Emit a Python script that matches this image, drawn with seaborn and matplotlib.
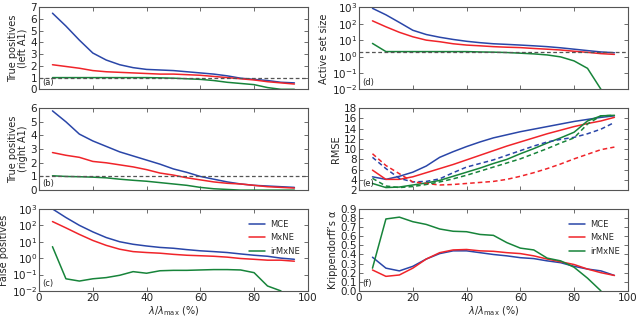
import numpy as np
import pandas as pd
import matplotlib
matplotlib.use("Agg")
import matplotlib.pyplot as plt
import seaborn as sns

lam = [5, 10, 15, 20, 25, 30, 35, 40, 45, 50, 55, 60, 65, 70, 75, 80, 85, 90, 95]
methods = ["MCE", "MxNE", "irMxNE"]
nan = np.nan

# (a) true positives, left A1
tp_left = {
    "MCE":    [6.5, 5.4, 4.2, 3.1, 2.5, 2.1, 1.85, 1.7, 1.65, 1.6, 1.5, 1.4, 1.3, 1.15, 0.95, 0.85, 0.75, 0.6, 0.55],
    "MxNE":   [2.1, 1.95, 1.8, 1.6, 1.5, 1.45, 1.4, 1.35, 1.3, 1.3, 1.25, 1.2, 1.1, 1.0, 0.9, 0.8, 0.65, 0.55, 0.45],
    "irMxNE": [1.0, 1.0, 1.0, 1.0, 1.0, 1.0, 1.0, 1.0, 0.98, 0.95, 0.9, 0.85, 0.75, 0.6, 0.5, 0.4, 0.15, 0.0, 0.0],
}
# (b) true positives, right A1
tp_right = {
    "MCE":    [5.8, 5.0, 4.1, 3.6, 3.2, 2.8, 2.5, 2.2, 1.9, 1.55, 1.3, 1.0, 0.8, 0.6, 0.45, 0.35, 0.3, 0.25, 0.2],
    "MxNE":   [2.75, 2.55, 2.4, 2.1, 2.0, 1.85, 1.7, 1.5, 1.25, 1.1, 0.9, 0.75, 0.6, 0.5, 0.45, 0.35, 0.25, 0.2, 0.15],
    "irMxNE": [1.05, 1.0, 0.98, 0.95, 0.9, 0.8, 0.72, 0.65, 0.55, 0.45, 0.35, 0.2, 0.1, 0.05, 0.0, 0.0, 0.0, 0.0, 0.0],
}
# (c) false positives
fp = {
    "MCE":    [1000, 300, 100, 40, 18, 10, 7, 5.5, 4.5, 4, 3.3, 2.8, 2.5, 2.2, 1.8, 1.5, 1.3, 1.0, 0.85],
    "MxNE":   [170, 70, 28, 12, 6, 3.5, 2.5, 2.2, 2.0, 1.7, 1.5, 1.4, 1.3, 1.15, 0.95, 0.85, 0.75, 0.75, 0.65],
    "irMxNE": [5, 0.055, 0.04, 0.055, 0.065, 0.09, 0.15, 0.12, 0.17, 0.18, 0.18, 0.19, 0.2, 0.2, 0.19, 0.13, 0.02, 0.01, nan],
}
# (d) active set size
active = {
    "MCE":    [870, 350, 120, 40, 22, 15, 11, 8.5, 7, 6, 5.5, 5, 4.5, 4, 3.4, 2.8, 2.3, 1.9, 1.7],
    "MxNE":   [150, 65, 30, 16, 10, 8, 6, 5, 4.5, 4, 3.7, 3.5, 3.1, 2.8, 2.5, 2.1, 1.8, 1.5, 1.35],
    "irMxNE": [6.3, 2.0, 2.0, 2.0, 2.0, 2.0, 2.0, 2.0, 1.9, 1.85, 1.75, 1.6, 1.45, 1.25, 0.95, 0.54, 0.19, 0.01, nan],
}
# (e) RMSE, solid and dashed
rmse = {
    "MCE":    [4.6, 4.1, 4.7, 5.5, 6.7, 8.4, 9.5, 10.5, 11.4, 12.2, 12.8, 13.4, 13.9, 14.4, 14.9, 15.4, 15.8, 16.2, 16.5],
    "MxNE":   [5.9, 4.1, 4.1, 4.6, 5.4, 6.2, 7.0, 7.9, 8.8, 9.7, 10.6, 11.4, 12.2, 13.0, 13.7, 14.4, 15.0, 15.5, 16.2],
    "irMxNE": [3.3, 2.5, 2.6, 3.0, 3.4, 3.9, 4.7, 5.5, 6.3, 7.2, 8.0, 9.1, 10.1, 11.2, 12.2, 13.3, 15.5, 16.5, 16.6],
}
rmse_dash = {
    "MCE":    [8.4, 6.2, 4.3, 3.6, 3.7, 4.2, 5.4, 6.5, 7.2, 7.9, 8.8, 9.7, 10.6, 11.4, 11.9, 12.3, 13.0, 13.9, 15.2],
    "MxNE":   [9.1, 6.8, 5.2, 3.6, 3.3, 3.0, 3.1, 3.3, 3.5, 3.7, 4.1, 4.7, 5.4, 6.2, 7.1, 8.1, 9.0, 9.9, 10.4],
    "irMxNE": [4.3, 2.8, 2.5, 2.7, 3.1, 3.6, 4.2, 4.9, 5.7, 6.5, 7.3, 8.1, 9.1, 10.1, 11.2, 12.2, 14.9, 16.5, 16.6],
}
# (f) Krippendorff's alpha
kripp = {
    "MCE":    [0.37, 0.25, 0.22, 0.27, 0.35, 0.41, 0.44, 0.44, 0.42, 0.40, 0.385, 0.365, 0.355, 0.33, 0.31, 0.27, 0.24, 0.22, 0.17],
    "MxNE":   [0.23, 0.16, 0.175, 0.25, 0.35, 0.42, 0.45, 0.455, 0.44, 0.435, 0.42, 0.41, 0.385, 0.35, 0.32, 0.29, 0.24, 0.2, 0.17],
    "irMxNE": [0.25, 0.79, 0.81, 0.76, 0.73, 0.68, 0.655, 0.65, 0.62, 0.61, 0.53, 0.47, 0.45, 0.36, 0.33, 0.26, 0.14, 0.0, nan],
}

colors = {"MCE": "#2a46a8", "MxNE": "#f0242a", "irMxNE": "#17843a"}


def long(d):
    rows = []
    for m in methods:
        for x, v in zip(lam, d[m]):
            rows.append({"lam": x, "val": v, "method": m})
    return pd.DataFrame(rows)


sns.set_style("white")
plt.rcParams.update({
    "font.family": ["DejaVu Sans"],
    "font.size": 7.5,
    "xtick.direction": "in",
    "ytick.direction": "in",
    "xtick.top": True,
    "ytick.right": True,
    "xtick.bottom": True,
    "ytick.left": True,
    "xtick.major.size": 3,
    "ytick.major.size": 3,
    "xtick.major.width": 0.6,
    "ytick.major.width": 0.6,
    "axes.edgecolor": "#555555",
    "axes.linewidth": 0.8,
    "xtick.color": "#555555",
    "ytick.color": "#555555",
    "xtick.labelcolor": "#222222",
    "ytick.labelcolor": "#222222",
    "xtick.labelsize": 7.5,
    "ytick.labelsize": 7.5,
})

fig = plt.figure(figsize=(6.4, 3.19), dpi=100)
lefts = [0.061, 0.561]
w = 0.42
bottoms = [0.720, 0.404, 0.088]
h = 0.257
axes = [[fig.add_axes([l, b, w, h]) for l in lefts] for b in bottoms]

panels = [
    (axes[0][0], tp_left, "True positives\n(left A1)", "(a)", False, (0, 7), 1, range(0, 8)),
    (axes[1][0], tp_right, "True positives\n(right A1)", "(b)", False, (0, 6), 1, range(0, 7)),
    (axes[2][0], fp, "False positives", "(c)", True, (1e-2, 1e3), None, None),
    (axes[0][1], active, "Active set size", "(d)", True, (1e-2, 1e3), 2, None),
    (axes[1][1], rmse, "RMSE", "(e)", False, (2, 18), None, range(2, 19, 2)),
    (axes[2][1], kripp, "Krippendorff\u2019s \u03b1", "(f)", False, (0, 0.9), None, None),
]

for ax, data, ylab, tag, logy, ylim, hline, yt in panels:
    df = long(data)
    show_leg = tag in ("(c)", "(f)")
    sns.lineplot(data=df, x="lam", y="val", hue="method", palette=colors,
                 linewidth=1.1, ax=ax, legend=show_leg)
    if tag == "(e)":
        dfd = long(rmse_dash)
        sns.lineplot(data=dfd, x="lam", y="val", hue="method", palette=colors,
                     linewidth=1.1, ax=ax, legend=False)
        for ln in ax.get_lines()[3:]:
            ln.set_linestyle((0, (3, 2)))
    if hline is not None:
        ax.axhline(hline, color="#555555", linestyle=(0, (3, 2)), linewidth=0.9)
    if logy:
        ax.set_yscale("log")
        ax.set_yticks([1e-2, 1e-1, 1e0, 1e1, 1e2, 1e3])
        ax.minorticks_off()
    elif yt is not None:
        ax.set_yticks(list(yt))
    else:
        ticks = np.arange(0, 0.91, 0.1)
        ax.set_yticks(ticks)
        ax.set_yticklabels([f"{t:.1f}" for t in ticks])
    ax.set_ylim(*ylim)
    ax.set_xlim(0, 100)
    ax.set_xticks(range(0, 101, 20))
    ax.set_ylabel(ylab, fontsize=7, labelpad=2, linespacing=1.0)
    ax.tick_params(axis="both", pad=1.5)
    if tag in ("(c)", "(f)"):
        ax.set_xlabel(r"$\lambda/\lambda_{\mathrm{max}}$ (%)", fontsize=7, labelpad=1)
        ax.legend(frameon=False, fontsize=6, loc="upper right",
                  handlelength=1.9, handletextpad=0.6, labelspacing=0.55,
                  borderaxespad=0.6, bbox_to_anchor=(1.0, 0.97))
    else:
        ax.set_xlabel("")
        ax.set_xticklabels([])
    ax.text(0.012, 0.03, tag, transform=ax.transAxes, fontsize=6,
            ha="left", va="bottom", color="#222222")

fig.savefig("out.png", dpi=100)
